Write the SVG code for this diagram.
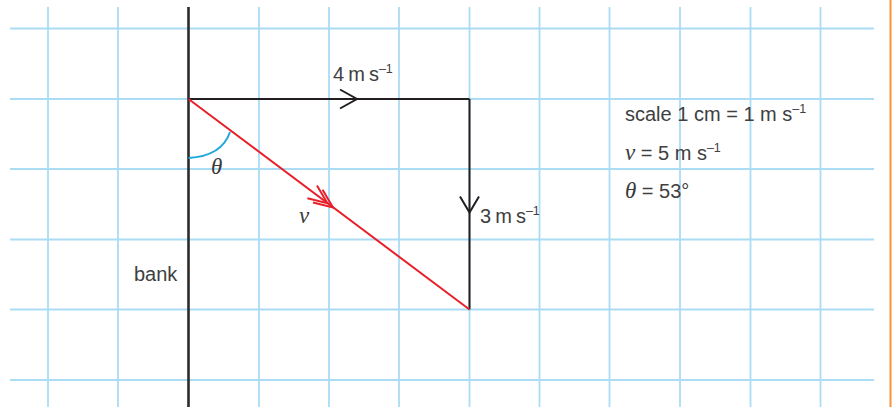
<svg xmlns="http://www.w3.org/2000/svg" width="896" height="407" viewBox="0 0 896 407">
<style>
.grid line{stroke:#aadcf4;stroke-width:1.8}
.t{font-family:"Liberation Sans",Arial,sans-serif;font-size:20px;fill:#404040}
.sup{font-size:12.5px}
.m{font-family:"Liberation Serif","Times New Roman",serif;font-style:italic;font-size:23px;fill:#3a3a3a}
.blk{stroke:#231f20;stroke-width:2;fill:none}
.red{stroke:#e8202a;stroke-width:2;fill:none}
</style>
<rect width="896" height="407" fill="#ffffff"/>
<g id="grid" class="grid">
<line x1="10" y1="28.5" x2="874" y2="28.5"/>
<line x1="10" y1="99" x2="874" y2="99"/>
<line x1="10" y1="169" x2="874" y2="169"/>
<line x1="10" y1="239.5" x2="874" y2="239.5"/>
<line x1="10" y1="309.5" x2="874" y2="309.5"/>
<line x1="10" y1="380" x2="874" y2="380"/>
<line x1="48" y1="7" x2="48" y2="407"/>
<line x1="118" y1="7" x2="118" y2="407"/>
<line x1="259" y1="7" x2="259" y2="407"/>
<line x1="329" y1="7" x2="329" y2="407"/>
<line x1="399" y1="7" x2="399" y2="407"/>
<line x1="469.5" y1="7" x2="469.5" y2="407"/>
<line x1="539.5" y1="7" x2="539.5" y2="407"/>
<line x1="609.5" y1="7" x2="609.5" y2="407"/>
<line x1="680" y1="7" x2="680" y2="407"/>
<line x1="750.5" y1="7" x2="750.5" y2="407"/>
<line x1="820.5" y1="7" x2="820.5" y2="407"/>
</g>
<line id="border" x1="890.5" y1="0" x2="890.5" y2="407" stroke="#f7943a" stroke-width="2"/>
<g id="bank">
<line x1="188.5" y1="7" x2="188.5" y2="407" stroke="#2b2b2b" stroke-width="2.6"/>
<text class="t" x="134" y="281">bank</text>
</g>
<g id="connectors">
<path id="v4" class="blk" d="M188.5,99 H469.5"/>
<path class="blk" d="M340,89.5 L357,99 L340,108.5"/>
<path id="v3" class="blk" d="M469.5,99 V309.5"/>
<path class="blk" d="M460,196.5 L469.5,212.5 L479,196.5"/>
<path id="vr" class="red" d="M188.5,99 L469.5,309.5"/>
<g transform="translate(333,207.5) rotate(36.8)">
<path class="red" d="M-19,-8 L0,0 L-19,8"/>
<path class="red" d="M-26,-8 L-7,0 L-26,8"/>
</g>
<path id="arc" d="M188.5,158 Q222,156 230,132" fill="none" stroke="#1fa9dd" stroke-width="2"/>
</g>
<g id="labels">
<text class="m" x="211" y="174">θ</text>
<text class="m" x="299" y="223">v</text>
<text class="t" x="333" y="81" word-spacing="-1.5">4 m s<tspan class="sup" dy="-8">–1</tspan></text>
<text class="t" x="480" y="223" word-spacing="-1.5">3 m s<tspan class="sup" dy="-8">–1</tspan></text>
</g>
<g id="legend">
<text class="t" x="625" y="121" font-size="20.5">scale 1 cm = 1 m s<tspan class="sup" dy="-8">–1</tspan></text>
<text class="t" x="625" y="160" font-size="20.5"><tspan class="m">v</tspan> = 5 m s<tspan class="sup" dy="-8">–1</tspan></text>
<text class="t" x="625" y="198" font-size="20.5"><tspan class="m">θ</tspan> = 53°</text>
</g>
</svg>
